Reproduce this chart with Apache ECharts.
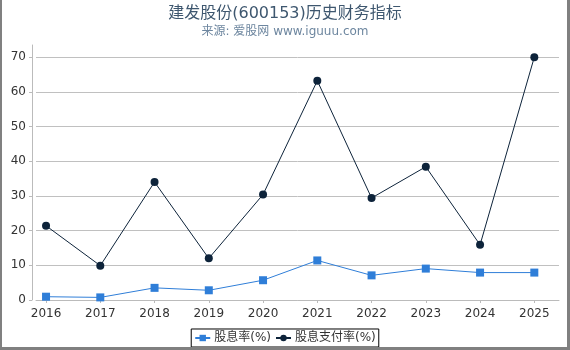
<!DOCTYPE html>
<html>
<head>
<meta charset="utf-8">
<script src="https://cdn.jsdelivr.net/npm/echarts@6/dist/echarts.min.js"></script>
<style>
html,body{margin:0;padding:0;background:#fff;}
#wrap{position:relative;width:570px;height:350px;}
#chart{width:570px;height:350px;}
#frame{position:absolute;left:0;top:0;width:570px;height:350px;box-sizing:border-box;border-left:2px solid #808080;border-right:3px solid #808080;border-bottom:3px solid #808080;pointer-events:none;}
</style>
</head>
<body>
<div id="wrap"><div id="chart"></div><div id="frame"></div></div>
<script>
const years = [2016, 2017, 2018, 2019, 2020, 2021, 2022, 2023, 2024, 2025];
const dividendYield = [0.95, 0.75, 3.5, 2.8, 5.7, 11.4, 7.1, 9.05, 7.9, 7.9];
const payoutRatio = [21.4, 9.9, 34.0, 12.0, 30.4, 63.2, 29.4, 38.4, 15.9, 70.0];
const yTicks = [0, 10, 20, 30, 40, 50, 60, 70];
const seriesNames = ['股息率(%)', '股息支付率(%)'];

const font = '"DejaVu Sans", "Noto Sans CJK SC", sans-serif';
const chart = echarts.init(document.getElementById('chart'), null, {renderer: 'canvas'});
chart.setOption({
  animation: false,
  title: {
    text: '建发股份(600153)历史财务指标',
    subtext: '来源: 爱股网 www.iguuu.com',
    left: 'center',
    top: 1,
    itemGap: 4,
    textStyle: {fontFamily: font, fontSize: 16, fontWeight: 'normal', color: '#3E576F'},
    subtextStyle: {fontFamily: font, fontSize: 12, color: '#6D869F'}
  },
  legend: {
    bottom: 3,
    left: 'center',
    data: seriesNames,
    borderColor: '#000',
    borderWidth: 1,
    borderRadius: 0,
    padding: [3, 3],
    itemGap: 4,
    itemWidth: 15,
    itemHeight: 8,
    textStyle: {fontFamily: font, fontSize: 12, color: '#333', padding: [0, 0, 0, -1]}
  },
  grid: {left: 36, right: 11, top: 45, bottom: 50, containLabel: false},
  xAxis: {
    type: 'value',
    min: 2015.815,
    max: 2025.455,
    offset: 4,
    splitLine: {show: false},
    axisLine: {show: true, lineStyle: {color: '#bbb', width: 1}},
    axisTick: {show: true, length: 3, customValues: years, lineStyle: {color: '#bbb'}},
    axisLabel: {customValues: years, fontFamily: font, fontSize: 12, color: '#333', margin: 4, formatter: v => String(v)}
  },
  yAxis: {
    type: 'value',
    min: 0,
    max: 73.5,
    offset: 4,
    splitLine: {show: true, lineStyle: {color: '#c0c0c0', width: 1}},
    axisLine: {show: true, lineStyle: {color: '#bbb', width: 1}},
    axisTick: {show: true, length: 3, customValues: yTicks, lineStyle: {color: '#bbb'}},
    axisLabel: {customValues: yTicks, fontFamily: font, fontSize: 12, color: '#333', margin: 6}
  },
  series: [
    {
      name: seriesNames[0],
      type: 'line',
      data: years.map((y, i) => [y, dividendYield[i]]),
      symbol: 'rect',
      symbolSize: 8,
      itemStyle: {color: '#2f7ed8'},
      lineStyle: {color: '#2f7ed8', width: 1}
    },
    {
      name: seriesNames[1],
      type: 'line',
      data: years.map((y, i) => [y, payoutRatio[i]]),
      symbol: 'circle',
      symbolSize: 8,
      itemStyle: {color: '#0d233a'},
      lineStyle: {color: '#0d233a', width: 1}
    }
  ]
});
</script>
</body>
</html>
